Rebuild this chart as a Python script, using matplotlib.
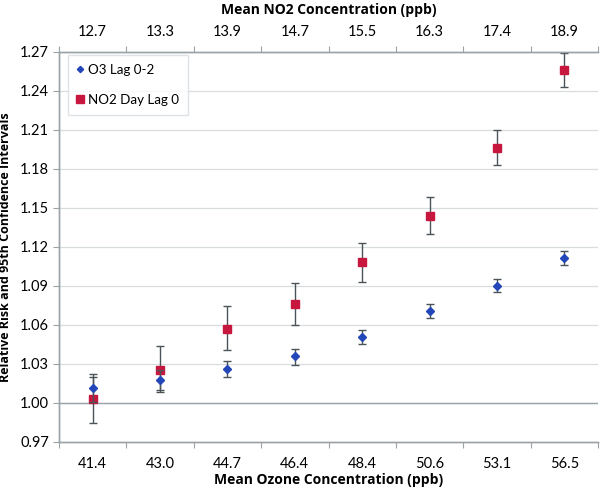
import matplotlib
matplotlib.use("Agg")
import matplotlib.pyplot as plt
import numpy as np
from matplotlib.lines import Line2D

plt.rcParams['font.family'] = ['Lato', 'DejaVu Sans']
title_family = ['Open Sans', 'DejaVu Sans']

ozone_labels = ["41.4", "43.0", "44.7", "46.4", "48.4", "50.6", "53.1", "56.5"]
no2_labels = ["12.7", "13.3", "13.9", "14.7", "15.5", "16.3", "17.4", "18.9"]

o3_rr = [1.0115, 1.0175, 1.026, 1.036, 1.0508, 1.0705, 1.0902, 1.1118]
o3_lo = [1.001, 1.010, 1.020, 1.0295, 1.0456, 1.0652, 1.0854, 1.1064]
o3_hi = [1.0223, 1.025, 1.0326, 1.0415, 1.0564, 1.076, 1.0956, 1.1167]

no2_rr = [1.0028, 1.0256, 1.057, 1.076, 1.1082, 1.1436, 1.1964, 1.256]
no2_lo = [0.9844, 1.0085, 1.0408, 1.0598, 1.0933, 1.1298, 1.1828, 1.2433]
no2_hi = [1.0202, 1.044, 1.0744, 1.092, 1.1233, 1.1582, 1.2102, 1.2695]

yticks = [0.97, 1.00, 1.03, 1.06, 1.09, 1.12, 1.15, 1.18, 1.21, 1.24, 1.27]

fig = plt.figure(figsize=(6, 4.9), dpi=100)
ax = fig.add_axes([0.098, 0.098, 0.899, 0.796])

x = np.arange(len(ozone_labels))
ecol = '#4a5358'
red = '#c8173f'
blue = '#2346b8'
ax.errorbar(x, no2_rr, yerr=[np.array(no2_rr) - np.array(no2_lo), np.array(no2_hi) - np.array(no2_rr)],
            fmt='s', color=red, ms=5.5, ecolor=ecol, elinewidth=1.0, capsize=3, capthick=1.0,
            zorder=3)
ax.errorbar(x, o3_rr, yerr=[np.array(o3_rr) - np.array(o3_lo), np.array(o3_hi) - np.array(o3_rr)],
            fmt='D', color=blue, ms=4, ecolor=ecol, elinewidth=1.0, capsize=3, capthick=1.0,
            zorder=4)

ax.set_xlim(-0.5, 7.5)
ax.set_ylim(0.97, 1.27)
ax.set_yticks(yticks)
ax.set_yticklabels([f"{v:.2f}" for v in yticks], fontsize=10.5)
for v in yticks[1:]:
    ax.axhline(v, color='#d8dde0', lw=0.9, zorder=0)
ax.axhline(1.00, color='#9aa3a8', lw=1.0, zorder=1)

ax.set_xticks(np.arange(-0.5, 8.0, 1.0))
ax.set_xticklabels([])
ax.set_xticks(x, minor=True)
ax.set_xticklabels(ozone_labels, minor=True, fontsize=10.5)
ax.tick_params(axis='x', which='minor', length=0, pad=11)
ax.tick_params(axis='x', which='major', length=4, color='#9aa3a8', direction='out')
ax.tick_params(axis='y', length=4, color='#9aa3a8', direction='out', pad=3)

ax2 = ax.twiny()
ax2.set_xlim(ax.get_xlim())
ax2.set_xticks(np.arange(-0.5, 8.0, 1.0))
ax2.set_xticklabels([])
ax2.set_xticks(x, minor=True)
ax2.set_xticklabels(no2_labels, minor=True, fontsize=10.5)
ax2.tick_params(axis='x', which='minor', length=0, pad=9)
ax2.tick_params(axis='x', which='major', length=4, color='#9aa3a8', direction='out')

for a in (ax, ax2):
    a.spines['right'].set_visible(False)
    for s in ('left', 'bottom', 'top'):
        a.spines[s].set_color('#9aa3a8')
        a.spines[s].set_linewidth(1.0)

ax.set_xlabel('Mean Ozone Concentration (ppb)', fontsize=10, fontweight='bold',
              family=title_family, labelpad=1)
ax2.set_xlabel('Mean NO2 Concentration (ppb)', fontsize=10, fontweight='bold',
               family=title_family, labelpad=8)
ax.set_ylabel('Relative Risk and 95th Confidence Intervals', fontsize=9, fontweight='bold',
              family=title_family, labelpad=6)

h_o3 = Line2D([], [], marker='D', color=blue, ls='none', ms=3.2)
h_no2 = Line2D([], [], marker='s', color=red, ls='none', ms=5.5)
leg = ax.legend([h_o3, h_no2], ['O3 Lag 0-2', 'NO2 Day Lag 0'], loc='upper left',
                bbox_to_anchor=(0.017, 0.993), fontsize=9.6, frameon=True, fancybox=False,
                labelspacing=1.35, handlelength=0.45, handletextpad=0.35, borderpad=0.7,
                borderaxespad=0.0)
leg.get_frame().set_edgecolor('#d8dde0')
leg.get_frame().set_linewidth(1.0)

fig.savefig('out.png', dpi=100)
